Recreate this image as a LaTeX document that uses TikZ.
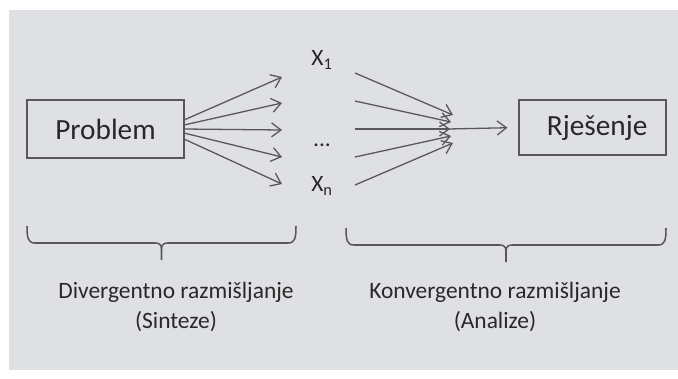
\documentclass[tikz,border=0pt]{standalone}
\usepackage{fontspec}
\setmainfont{Carlito}
\usepackage{tikz}
\usetikzlibrary{arrows.meta}
\definecolor{pozadina}{RGB}{222,224,227}
\definecolor{linija}{RGB}{88,88,88}
\definecolor{tekst}{RGB}{40,40,40}

\tikzset{
    kutija/.style={draw=linija, line width=1.6pt, inner sep=0pt, text=tekst,
        font=\fontsize{25}{30}\selectfont},
    strelica/.style={draw=linija, line width=1.1pt,
        -{Straight Barb[length=8pt, width=12pt, line width=1.1pt]}},
    oznaka/.style={text=tekst, align=center, font=\fontsize{20}{25}\selectfont},
    zagrada/.style={draw=linija, line width=1.3pt}
}

\begin{document}
\begin{tikzpicture}[x=0.03cm, y=-0.03cm]
    % Pozadina
    \useasboundingbox (0,0) rectangle (678,378);
    \fill[pozadina] (9,10) rectangle (678,370);

    % Kutije
    \node[kutija, minimum width=4.71cm, minimum height=1.74cm] (problem) at (105.5,129) {Problem};
    \node[kutija, minimum width=4.41cm, minimum height=1.65cm] (rjesenje) at (592.5,127.5) {\hspace{8pt}Rješenje};

    % Rješenja x1 ... xn
    \node[oznaka] (x1) at (322,60) {X\textsubscript{1}};
    \node[oznaka] (tocke) at (322,145) {...};
    \node[oznaka] (xn) at (322,186) {X\textsubscript{n}};

    % Divergentne strelice
    \foreach \i/\ys/\yk in {1/120/77, 2/125/103, 3/129/130, 4/133/157, 5/139/184} {
        \coordinate (p\i) at (184,\ys);
        \coordinate (d\i) at (282,\yk);
        \draw[strelica] (p\i) -- (d\i);
    }

    % Konvergentne strelice
    \coordinate (spoj) at (448,129);
    \foreach \i/\ys/\xk/\yk in {1/73/453/115, 2/101/451/122, 3/129/450/129, 4/157/451/136, 5/185/453/143} {
        \coordinate (k\i) at (355,\ys);
        \coordinate (c\i) at (\xk,\yk);
        \draw[strelica] (k\i) -- (c\i);
    }
    \draw[strelica, shorten >=9pt] (spoj) -- (rjesenje.west);

    % Zagrade
    \foreach \a/\b/\t in {27/296/226, 346/666/228} {
        \pgfmathsetmacro{\m}{(\a+\b)/2}
        \draw[zagrada] (\a,\t) .. controls (\a,\t+12) and (\a+1,\t+17) .. (\a+8,\t+17)
            -- (\m-6,\t+17) .. controls (\m-2,\t+17) and (\m,\t+19) .. (\m,\t+23) -- (\m,\t+34);
        \draw[zagrada] (\b,\t) .. controls (\b,\t+12) and (\b-1,\t+17) .. (\b-8,\t+17)
            -- (\m+6,\t+17) .. controls (\m+2,\t+17) and (\m,\t+19) .. (\m,\t+23);
    }

    % Opisi
    \node[oznaka] (divergentno) at (176,307) {Divergentno razmišljanje\\(Sinteze)};
    \node[oznaka] (konvergentno) at (495,307) {Konvergentno razmišljanje\\(Analize)};
\end{tikzpicture}
\end{document}
